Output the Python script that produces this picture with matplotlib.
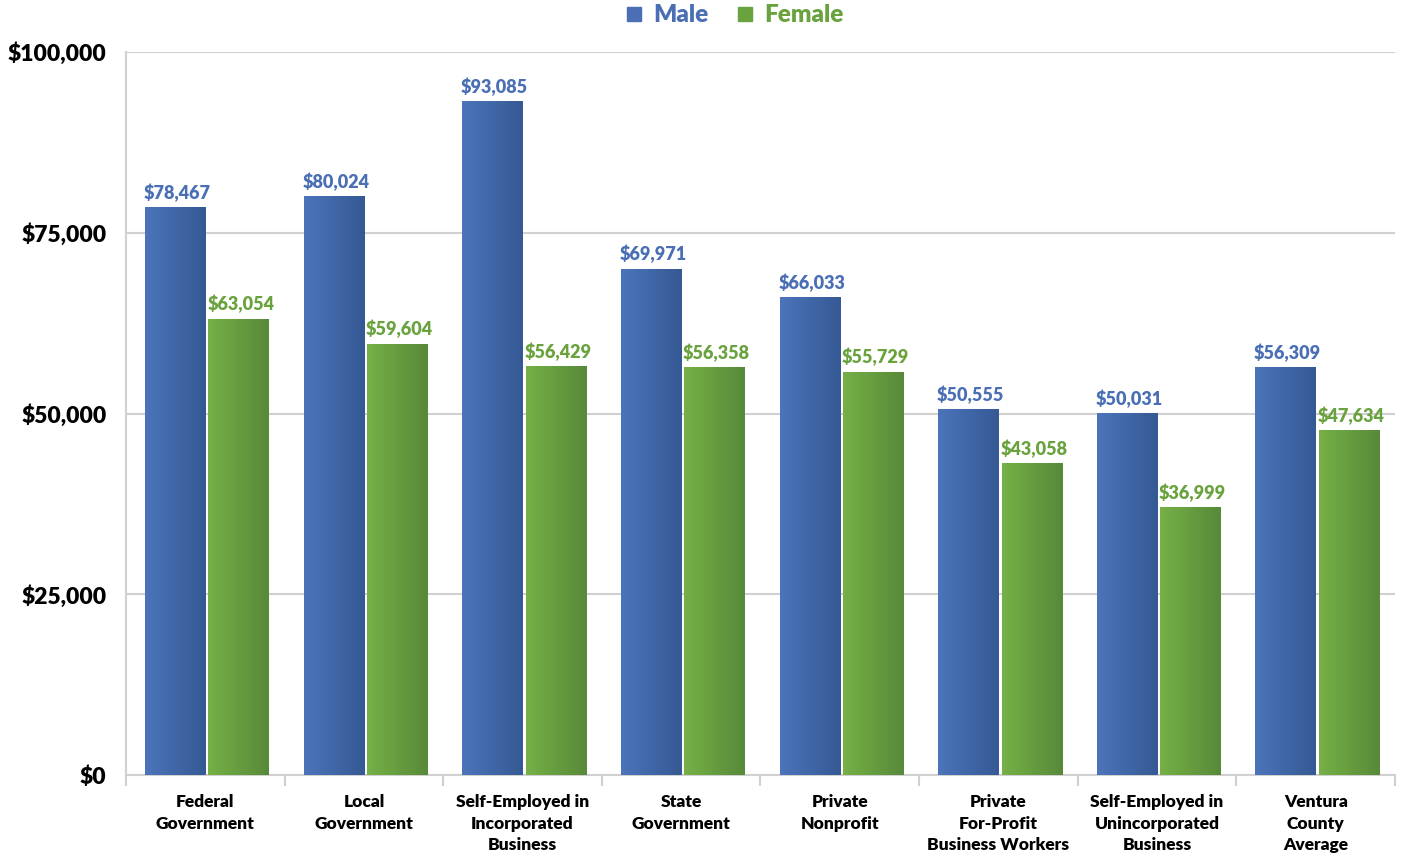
import matplotlib.pyplot as plt
import numpy as np
from matplotlib.colors import LinearSegmentedColormap
from matplotlib.lines import Line2D
from matplotlib.ticker import FuncFormatter

plt.rcParams['font.family'] = ['Lato', 'DejaVu Sans']
WT = 800

categories = ['Federal\nGovernment', 'Local\nGovernment', 'Self-Employed in\nIncorporated\nBusiness',
              'State\nGovernment', 'Private\nNonprofit', 'Private\nFor-Profit\nBusiness Workers',
              'Self-Employed in\nUnincorporated\nBusiness', 'Ventura\nCounty\nAverage']
male = [78467, 80024, 93085, 69971, 66033, 50555, 50031, 56309]
female = [63054, 59604, 56429, 56358, 55729, 43058, 36999, 47634]

male_cmap = LinearSegmentedColormap.from_list('m', ['#4b74ba', '#355994'])
female_cmap = LinearSegmentedColormap.from_list('f', ['#76b046', '#578a39'])
male_text = '#4a6fb4'
female_text = '#6aa33e'

fig = plt.figure(figsize=(14.04, 8.58), dpi=100)
ax = fig.add_axes([0.0897, 0.0967, 0.9039, 0.8427])

x = np.arange(len(categories))
w = 0.38
gap = 0.02
grad = np.linspace(0, 1, 64).reshape(1, -1)


def gradient_bars(xs, vals, cmap, tcolor):
    for xc, v in zip(xs, vals):
        ax.imshow(grad, cmap=cmap, extent=[xc - w / 2, xc + w / 2, 0, v],
                  aspect='auto', zorder=3, interpolation='bicubic')
        ax.annotate('${:,}'.format(v), (xc, v), xytext=(1.5, 4), textcoords='offset points',
                    ha='center', va='bottom', fontsize=13, fontweight=WT,
                    color=tcolor, zorder=4)


gradient_bars(x - w / 2 - gap / 2 + 0.01, male, male_cmap, male_text)
gradient_bars(x + w / 2 + gap / 2 + 0.01, female, female_cmap, female_text)

ax.set_xlim(-0.5, len(categories) - 0.5)
ax.set_ylim(0, 100000)
ax.set_yticks([0, 25000, 50000, 75000, 100000])
ax.yaxis.set_major_formatter(FuncFormatter(lambda v, p: '${:,.0f}'.format(v)))
ax.grid(axis='y', color='#d0d0d0', linewidth=1.5, zorder=0)
ax.set_axisbelow(True)

ax.set_xticks(x)
ax.set_xticklabels(categories, fontsize=12.5, fontweight=WT, linespacing=1.4)
ax.set_xticks(np.arange(len(categories) + 1) - 0.5, minor=True)
ax.tick_params(axis='x', which='major', length=0, pad=14)
ax.tick_params(axis='x', which='minor', length=8, width=1.5, color='#d0d0d0')
ax.tick_params(axis='y', length=0, pad=14, labelsize=16.5)
for lbl in ax.get_yticklabels():
    lbl.set_fontweight(WT)

for s in ['top', 'right']:
    ax.spines[s].set_visible(False)
for s in ['left', 'bottom']:
    ax.spines[s].set_color('#d0d0d0')
    ax.spines[s].set_linewidth(1.5)

handles = [Line2D([], [], marker='s', linestyle='none', markersize=9.5, color='#4a6fb4'),
           Line2D([], [], marker='s', linestyle='none', markersize=9.5, color='#6aa33e')]
leg = fig.legend(handles, ['Male', 'Female'], loc='center', bbox_to_anchor=(0.5235, 0.982),
                 ncol=2, frameon=False, handlelength=0.6, handletextpad=0.5, columnspacing=1.2,
                 prop={'weight': WT, 'size': 17.5})
for t, c in zip(leg.get_texts(), [male_text, female_text]):
    t.set_color(c)

fig.savefig('out.png', dpi=100)
